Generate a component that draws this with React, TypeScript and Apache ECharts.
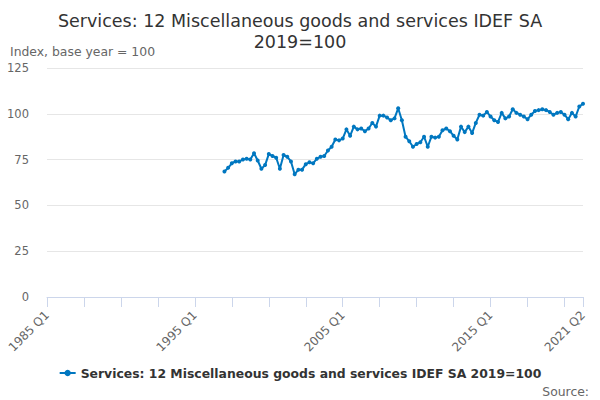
import React, { useEffect, useRef } from "react";
import * as echarts from "echarts";

const FIRST_YEAR = 1985;
const QUARTER_COUNT = 146; // 1985 Q1 .. 2021 Q2
const categories: string[] = [];
for (let i = 0; i < QUARTER_COUNT; i++) {
  categories.push(`${FIRST_YEAR + Math.floor(i / 4)} Q${(i % 4) + 1}`);
}

// Index values from 1997 Q1 to 2021 Q2
const DATA_START = 48;
const seriesValues: number[] = [
  68.5, 70.5, 73, 74, 74, 75, 75.5, 75, 78.5, 74.5, 70, 72, 78, 77, 76, 70,
  77.5, 76.5, 74, 67, 69.5, 69.5, 72.5, 73.5, 73, 75.5, 76.5, 77, 80, 82, 86, 85.5,
  86.5, 91.5, 88, 93, 91.5, 92, 90.5, 92, 95, 93, 99, 99, 98, 96.5, 97.5, 103,
  96.5, 87.5, 85, 82, 83.5, 84.5, 87.5, 82, 87.5, 87, 87.5, 91, 92, 90.5, 88, 86,
  93, 90, 93, 89.5, 95, 99.5, 99, 101, 98.5, 96.5, 95.5, 100.5, 97.5, 98.5, 102.5, 100.5,
  99.5, 98.5, 97, 99.5, 101.5, 102, 102.5, 102, 101, 99.5, 100.5, 101, 99.5, 97, 100.5, 98.5,
  104, 105.5,
];

const yTicks = { min: 0, max: 125, interval: 25 };
const labelIndices = [0, 40, 80, 120, 145];

const seriesName = "Services: 12 Miscellaneous goods and services IDEF SA 2019=100";
const titleText = "Services: 12 Miscellaneous goods and services IDEF SA\n2019=100";

export default function App() {
  const ref = useRef<HTMLDivElement>(null);
  useEffect(() => {
    if (!ref.current) return;
    const chart = echarts.init(ref.current, undefined, { renderer: "svg" });
    const full: (number | null)[] = categories.map((_, i) =>
      i >= DATA_START && i - DATA_START < seriesValues.length ? seriesValues[i - DATA_START] : null
    );
    const font = "DejaVu Sans";
    chart.setOption({
      animation: false,
      textStyle: { fontFamily: font },
      title: {
        text: titleText,
        left: "center",
        top: 5,
        textStyle: { fontSize: 17.5, fontWeight: "normal", color: "#333333", lineHeight: 21, fontFamily: font },
      },
      graphic: [
        {
          type: "text",
          left: 10,
          top: 45,
          style: { text: "Index, base year = 100", fontSize: 12.4, fill: "#666666", fontFamily: font },
        },
        {
          type: "text",
          x: 589,
          y: 391,
          style: {
            text: "Source:",
            fontSize: 12.4,
            fill: "#666666",
            fontFamily: font,
            align: "right",
            verticalAlign: "middle",
          },
        },
      ],
      legend: {
        bottom: 16,
        left: "center",
        itemWidth: 16,
        itemHeight: 8,
        itemGap: 10,
        textStyle: { fontSize: 12.4, fontWeight: "bold", color: "#333333", fontFamily: font },
        data: [{ name: seriesName }],
      },
      grid: { left: 47, right: 17, top: 68, bottom: 103, containLabel: false },
      xAxis: {
        type: "category",
        data: categories,
        boundaryGap: false,
        axisLine: { lineStyle: { color: "#ccd6eb" } },
        axisTick: {
          length: 10,
          lineStyle: { color: "#ccd6eb" },
          interval: (index: number) => index % 10 === 0 || index === QUARTER_COUNT - 1,
        },
        axisLabel: {
          rotate: 45,
          color: "#666666",
          fontSize: 12,
          margin: 16,
          fontFamily: font,
          interval: (index: number) => labelIndices.includes(index),
        },
        splitLine: { show: false },
      },
      yAxis: {
        type: "value",
        min: yTicks.min,
        max: yTicks.max,
        interval: yTicks.interval,
        axisLine: { show: false },
        axisTick: { show: false },
        axisLabel: { color: "#666666", fontSize: 11.5, margin: 18, fontFamily: font },
        splitLine: { lineStyle: { color: "#e6e6e6" } },
      },
      series: [
        {
          name: seriesName,
          type: "line",
          data: full,
          color: "#0077c0",
          lineStyle: { width: 2, color: "#0077c0" },
          itemStyle: { color: "#0077c0" },
          symbol: "circle",
          symbolSize: 4,
          showSymbol: true,
          showAllSymbol: true,
          connectNulls: false,
        },
      ],
    });
    return () => chart.dispose();
  }, []);
  return (
    <div
      ref={ref}
      style={{ position: "fixed", left: 0, top: 0, width: 600, height: 400, background: "#ffffff" }}
    />
  );
}
